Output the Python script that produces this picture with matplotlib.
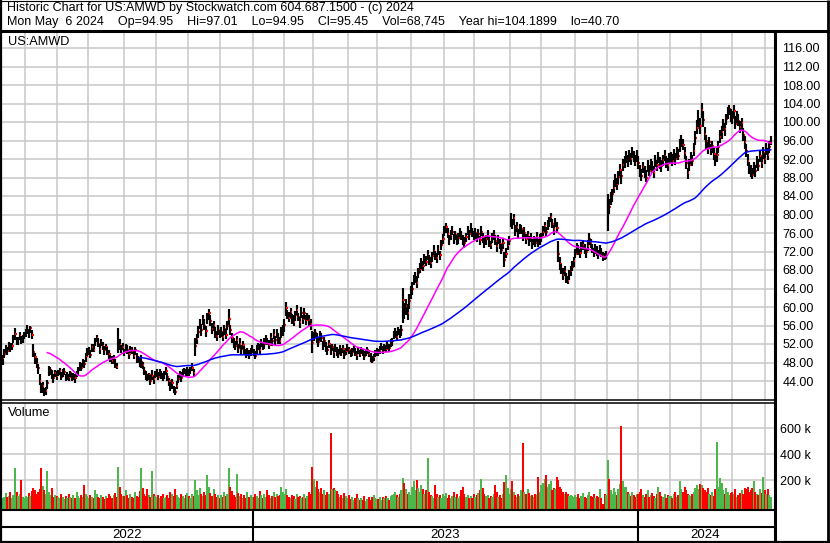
import numpy as np
import pandas as pd
import matplotlib
matplotlib.use('Agg')
import matplotlib.pyplot as plt
from matplotlib.collections import LineCollection

plt.rcParams['font.family'] = ['Liberation Sans', 'DejaVu Sans']

# ---- data: daily bars, May 10 2022 .. May 6 2024 (NYSE days) ----
holidays = ['2022-05-30', '2022-06-20', '2022-07-04', '2022-09-05', '2022-11-24', '2022-12-26',
            '2023-01-02', '2023-01-16', '2023-02-20', '2023-04-07', '2023-05-29', '2023-06-19',
            '2023-07-04', '2023-09-04', '2023-11-23', '2023-12-25',
            '2024-01-01', '2024-01-15', '2024-02-19', '2024-03-29']

close = [
    48.9, 49.8, 51.2, 50.4, 52.0, 50.9, 51.6, 53.1, 54.2, 52.4, 53.0, 53.8, 52.6, 53.4, 53.8,  # may 22
    54.3, 55.0, 54.6, 55.4, 53.9, 50.2, 49.1, 47.6, 46.8, 44.0, 42.1, 42.9, 41.3, 41.8, 43.5, 45.9, 46.4, 45.2, 44.7, 45.8, 45.1,
    45.6, 46.2, 44.9, 45.8, 46.0, 44.6, 45.3, 44.8, 45.7, 44.5, 45.1, 44.6, 45.5, 46.3, 47.4, 46.8, 48.1, 47.6, 49.3, 50.1,
    50.4, 49.6, 51.3, 50.8, 52.6, 53.4, 52.1, 51.0, 52.3, 51.5, 50.7, 51.4, 50.2, 49.8, 49.0, 48.3, 48.9, 47.6, 47.1, 52.8, 51.8, 50.9, 51.3,
    50.3, 51.2, 50.6, 49.8, 51.0, 50.4, 49.5, 50.7, 49.2, 48.6, 47.9, 48.2, 47.5, 46.1, 45.4, 44.6, 45.2, 44.1, 45.0, 44.4, 45.3,
    45.8, 44.9, 46.0, 45.2, 44.6, 45.5, 46.2, 44.8, 43.9, 42.6, 43.5, 42.2, 41.6, 43.0, 44.5, 45.3, 44.7, 45.9, 46.3, 45.6, 46.1,
    45.7, 46.4, 46.9, 45.8, 51.6, 53.0, 54.5, 56.2, 55.1, 57.3, 56.0, 54.8, 57.5, 58.6, 56.9, 55.3, 56.1, 54.2, 53.8, 55.0, 54.3,
    54.6, 53.5, 55.2, 54.0, 55.8, 57.4, 55.1, 53.2, 52.4, 51.6, 52.8, 51.2, 52.0, 50.9, 51.7, 50.6, 49.8, 50.5, 49.6, 50.3, 50.8,
    50.2, 49.5, 50.9, 51.6, 50.8, 52.3, 51.4, 52.0, 53.1, 52.5, 51.8, 53.4, 52.6, 53.9, 52.8, 54.1, 53.3, 52.7, 54.4, 55.0,  # jan 23
    56.2, 59.8, 58.4, 57.6, 58.9, 57.3, 56.8, 58.2, 59.3, 57.9, 56.7, 58.6, 57.4, 58.8, 57.1, 58.0, 57.2, 56.4, 52.3,
    53.6, 54.4, 53.1, 52.5, 54.0, 53.2, 51.8, 52.6, 51.2, 50.8, 51.9, 50.6, 51.4, 50.2, 51.1, 50.5, 49.9, 51.0, 50.3, 50.9, 49.7, 50.4, 51.2,
    50.6, 49.8, 50.3, 51.0, 50.1, 49.6, 50.5, 49.9, 50.8, 50.2, 49.4, 50.0, 50.7, 49.8, 49.2, 48.3, 49.1, 49.9, 50.4,
    50.1, 50.8, 51.3, 50.6, 51.5, 50.9, 51.8, 51.2, 52.0, 52.6, 53.8, 54.5, 53.6, 54.9, 54.2, 55.0, 61.5, 59.0, 60.2, 58.6, 61.3, 63.2,
    64.0, 65.8, 66.5, 65.2, 67.4, 68.3, 69.6, 68.8, 70.5, 69.7, 71.2, 70.4, 69.5, 71.0, 72.2, 71.4, 70.6, 72.0, 71.3, 73.4, 74.6,
    76.4, 77.2, 75.8, 74.6, 75.5, 76.3, 74.8, 75.6, 74.2, 75.0, 76.1, 75.3, 74.5, 73.8, 75.2, 76.4, 75.7, 76.9, 76.2, 75.4,
    76.0, 74.9, 75.7, 74.4, 76.2, 75.1, 73.8, 74.6, 75.4, 74.1, 73.5, 74.8, 75.6, 74.3, 73.2, 74.5, 73.6, 72.4, 73.9, 70.2, 71.5, 73.4, 74.2,
    78.6, 77.9, 79.2, 76.4, 77.2, 75.9, 76.8, 76.9, 75.6, 76.1, 74.8, 75.6, 74.2, 75.0, 73.6, 74.5, 73.9, 75.2, 74.0, 74.6,
    75.1, 76.3, 77.5, 76.2, 77.8, 78.6, 79.4, 77.9, 76.8, 78.2, 77.0, 71.5, 69.4, 68.2, 67.0, 67.8, 66.1, 65.6, 66.9, 67.8, 68.6, 69.9,
    71.5, 72.8, 72.2, 71.6, 72.9, 73.5, 72.4, 71.8, 73.2, 74.6, 73.8, 72.5, 71.9, 72.7, 72.0, 71.4, 72.3, 71.7, 71.0, 70.6, 71.3,
    82.5, 81.6, 83.4, 84.4, 85.8, 87.4, 86.5, 88.2, 89.6, 88.3, 90.6, 91.4, 92.3, 91.5, 92.8, 91.9, 93.6, 92.4, 91.7, 92.5,
    91.2, 89.6, 88.4, 90.3, 89.1, 88.0, 90.5, 89.4, 91.0, 90.2, 89.0, 91.6, 90.8, 92.2, 91.3, 90.4, 91.8, 92.6, 91.5, 90.7, 92.0,  # jan 24
    92.4, 91.6, 93.1, 92.0, 93.5, 92.7, 94.8, 96.2, 95.0, 93.4, 91.2, 89.0, 90.6, 92.3, 91.5, 93.8, 96.5, 98.7, 100.4, 99.2,
    102.6, 100.5, 97.4, 95.8, 94.2, 95.6, 93.9, 94.8, 93.1, 91.6, 92.8, 94.5, 96.8, 97.9, 99.2, 98.4, 100.6, 101.8, 102.9, 101.5,
    100.8, 102.4, 99.6, 101.2, 100.3, 98.9, 99.7, 97.2, 95.6, 93.8, 91.5, 90.2, 89.4, 88.6, 90.1, 89.3, 91.5, 90.4, 92.6, 91.2, 93.4, 92.1,
    94.1, 92.8, 94.6, 95.45,
]

# distance from close up to the high / down to the low
hi_ext = [
    0.8, 1.2, 0.6, 1.0, 0.5, 1.4, 0.7, 0.9, 1.3, 1.1, 0.6, 0.8, 1.2, 0.5, 0.9,
    0.9, 1.1, 0.7, 0.6, 1.2, 1.8, 1.0, 1.3, 0.8, 1.6, 1.4, 0.9, 1.2, 1.0, 0.8, 1.3, 0.7, 1.1, 0.9, 0.6, 1.0,
    0.8, 0.6, 1.1, 0.7, 0.9, 1.0, 0.6, 0.8, 0.5, 1.2, 0.7, 0.9, 0.6, 0.8, 0.7, 1.1, 0.6, 0.9, 0.8, 1.0,
    0.9, 1.0, 0.7, 1.2, 0.8, 0.6, 1.1, 0.9, 0.7, 1.0, 0.8, 0.6, 1.2, 0.9, 0.7, 1.0, 0.8, 1.1, 0.9, 2.6, 1.2, 0.8, 1.0,
    0.7, 0.9, 1.1, 0.8, 0.6, 1.0, 1.2, 0.7, 0.9, 0.8, 1.1, 1.4, 0.7, 1.0, 0.8, 0.9, 0.6, 1.1, 1.3, 0.7, 0.9,
    0.8, 1.0, 0.7, 0.9, 1.1, 0.6, 0.8, 1.0, 0.7, 1.2, 0.9, 0.8, 1.1, 1.0, 0.7, 0.9, 1.2, 0.8, 0.6, 1.0, 0.9,
    0.8, 0.7, 1.0, 0.9, 1.6, 1.2, 1.4, 1.1, 1.3, 1.0, 1.5, 1.2, 1.1, 1.0, 1.3, 1.2, 0.9, 1.4, 1.0, 1.2, 0.8,
    1.0, 1.2, 0.9, 1.3, 1.1, 2.2, 1.0, 1.2, 0.8, 1.1, 1.0, 0.9, 1.2, 0.8, 1.0, 0.9, 1.1, 0.7, 1.0, 0.8, 0.9,
    0.8, 1.0, 0.9, 0.7, 1.1, 0.8, 1.0, 1.2, 0.9, 0.7, 1.1, 1.0, 0.8, 1.3, 0.9, 1.1, 1.0, 0.8, 1.2, 1.1,
    1.2, 1.2, 1.0, 1.3, 0.9, 1.1, 1.4, 1.0, 1.2, 0.8, 1.1, 1.3, 0.9, 1.0, 1.2, 0.8, 1.1, 1.0, 2.5,
    1.1, 0.9, 1.2, 1.0, 0.8, 1.1, 0.9, 1.0, 1.2, 0.8, 0.9, 1.1, 0.7, 1.0, 0.8, 0.9, 1.1, 0.7, 0.9, 0.8, 1.0, 0.7, 0.9,
    0.7, 0.9, 0.8, 0.6, 1.0, 0.8, 0.7, 0.9, 0.6, 0.8, 1.0, 0.7, 0.6, 0.9, 0.8, 1.0, 0.7, 0.9, 0.8,
    0.8, 0.7, 0.9, 1.0, 0.6, 0.8, 0.9, 0.7, 1.0, 0.8, 1.1, 0.9, 1.2, 0.8, 1.0, 1.1, 2.7, 1.8, 1.5, 2.0, 1.6, 1.4,
    1.5, 1.2, 1.0, 1.4, 1.1, 1.3, 0.9, 1.2, 1.0, 1.4, 1.1, 0.9, 1.3, 1.0, 1.2, 0.8, 1.1, 1.3, 0.9, 1.0, 1.2,
    1.2, 1.0, 1.3, 0.9, 1.1, 1.2, 1.0, 0.8, 1.3, 1.1, 0.9, 1.2, 1.0, 1.4, 0.9, 1.1, 1.0, 1.2, 0.8, 1.0,
    1.1, 1.0, 1.2, 0.9, 1.3, 1.0, 1.1, 0.9, 1.2, 1.0, 0.8, 1.1, 1.0, 1.2, 0.9, 1.1, 1.0, 1.3, 0.9, 1.8, 1.2, 1.0, 1.1,
    1.7, 1.2, 1.0, 1.3, 1.1, 1.0, 1.2, 0.9, 1.1, 1.3, 1.0, 0.9, 1.2, 1.0, 1.1, 0.9, 1.2, 1.0, 0.8, 1.1,
    1.0, 1.2, 0.9, 1.1, 1.0, 0.8, 0.9, 1.2, 1.0, 1.1, 1.3, 2.8, 1.5, 1.2, 1.4, 1.1, 1.3, 1.0, 1.2, 1.1, 1.3, 1.0,
    1.1, 1.0, 1.2, 0.9, 1.1, 1.0, 1.3, 0.9, 1.2, 1.3, 1.0, 1.1, 0.8, 1.0, 1.2, 0.9, 1.0, 1.1, 0.8, 1.0, 0.9,
    2.0, 1.8, 1.5, 1.2, 1.6, 1.3, 1.5, 1.2, 1.4, 1.1, 1.5, 1.2, 1.4, 1.3, 1.2, 1.5, 0.9, 1.3, 1.1, 1.4,
    1.4, 1.2, 1.5, 1.1, 1.3, 1.6, 1.2, 1.4, 1.1, 1.3, 1.5, 1.2, 1.0, 1.4, 1.2, 1.3, 1.1, 1.4, 1.2, 1.5, 1.3,
    1.2, 1.4, 1.1, 1.3, 1.0, 1.5, 1.6, 1.0, 1.3, 1.2, 1.4, 1.1, 1.3, 1.2, 1.4, 1.6, 1.5, 1.8, 2.2, 1.6,
    1.59, 1.8, 1.6, 1.3, 1.5, 1.2, 1.4, 1.1, 1.3, 1.2, 1.5, 1.3, 1.4, 1.2, 1.5, 1.3, 1.2, 1.4, 0.8, 1.3,
    1.5, 1.2, 1.6, 1.1, 1.4, 1.3, 1.2, 1.5, 1.3, 1.4, 1.6, 1.2, 1.3, 1.5, 1.2, 1.4, 1.1, 1.5, 1.2, 1.4, 1.3, 1.1,
    1.3, 1.5, 1.2, 1.56,
]
lo_ext = [
    1.5, 0.9, 1.1, 0.7, 1.3, 0.6, 1.0, 0.8, 1.4, 0.7, 1.2, 0.9, 0.6, 1.1, 0.8,
    0.7, 0.8, 1.2, 1.0, 0.9, 1.1, 1.4, 0.8, 1.3, 0.9, 0.7, 1.5, 0.6, 0.9, 1.2, 0.8, 1.0, 0.7, 1.2, 0.9, 0.8,
    0.6, 0.9, 0.7, 1.0, 0.8, 0.6, 1.1, 0.7, 0.9, 0.6, 0.8, 1.0, 0.7, 0.9, 1.2, 0.6, 1.0, 0.8, 1.1, 0.7,
    0.8, 0.7, 1.1, 0.6, 1.0, 0.9, 0.8, 1.2, 0.7, 0.9, 1.1, 0.8, 0.6, 1.0, 0.9, 0.7, 1.2, 0.8, 0.6, 2.8, 1.0, 0.9, 0.7,
    1.0, 0.7, 0.8, 1.1, 0.9, 0.6, 0.8, 1.0, 1.2, 0.7, 0.9, 1.3, 1.0, 0.8, 1.1, 0.7, 0.9, 1.0, 0.8, 1.1, 0.6,
    0.9, 0.7, 1.0, 0.8, 0.6, 1.1, 0.9, 0.7, 1.0, 0.8, 1.2, 0.9, 0.6, 0.8, 1.0, 0.7, 0.9, 1.1, 0.8, 0.7, 1.0,
    0.7, 0.9, 0.8, 1.0, 2.2, 1.1, 1.3, 1.0, 1.4, 1.2, 1.0, 1.3, 1.2, 1.5, 1.0, 1.1, 1.3, 0.9, 1.2, 1.0, 1.1,
    1.1, 0.9, 1.2, 1.0, 0.8, 1.3, 1.1, 0.9, 1.2, 0.8, 1.0, 1.1, 0.9, 1.2, 0.8, 1.0, 0.9, 1.1, 0.8, 1.0, 0.7,
    0.9, 0.7, 1.0, 0.8, 1.2, 0.9, 0.7, 1.0, 1.1, 0.8, 0.9, 1.2, 1.0, 0.8, 1.1, 0.9, 1.3, 0.8, 1.0, 1.2,
    1.5, 1.8, 1.1, 0.9, 1.2, 1.0, 0.8, 1.3, 1.1, 1.0, 1.2, 0.9, 1.1, 1.3, 1.0, 0.9, 1.2, 1.4, 2.3,
    1.0, 1.2, 0.9, 1.1, 1.3, 0.8, 1.0, 1.2, 0.9, 1.1, 0.8, 1.0, 0.9, 1.2, 0.8, 1.0, 0.9, 1.1, 0.8, 0.9, 1.0, 0.8, 0.7,
    0.8, 0.6, 0.9, 0.7, 0.8, 1.0, 0.6, 0.8, 0.9, 0.7, 0.8, 0.6, 0.9, 0.7, 1.0, 0.5, 0.8, 0.7, 0.9,
    0.7, 0.9, 0.6, 0.8, 1.0, 0.7, 0.8, 0.9, 0.6, 1.0, 0.8, 1.1, 0.9, 1.0, 0.8, 1.2, 5.0, 1.6, 2.0, 1.4, 1.8, 1.5,
    1.3, 1.0, 1.4, 1.1, 1.2, 0.9, 1.3, 1.0, 1.2, 0.8, 1.1, 1.4, 1.0, 1.2, 0.9, 1.3, 1.0, 0.8, 1.2, 1.1, 0.9,
    1.0, 1.3, 0.9, 1.2, 1.0, 0.8, 1.2, 1.1, 0.9, 1.3, 1.0, 0.9, 1.2, 1.0, 1.1, 0.8, 1.2, 1.0, 1.1, 0.9,
    1.2, 0.9, 1.0, 1.1, 0.8, 1.2, 1.0, 1.1, 0.9, 1.2, 1.0, 0.9, 1.1, 1.0, 1.2, 0.8, 1.1, 1.0, 1.3, 1.6, 1.0, 1.1, 0.9,
    1.3, 1.0, 1.4, 1.1, 0.9, 1.2, 1.0, 1.1, 1.3, 0.9, 1.2, 1.0, 1.1, 0.9, 1.0, 1.2, 0.9, 1.1, 1.0, 1.2,
    1.1, 0.9, 1.2, 1.0, 1.1, 1.3, 1.0, 0.9, 1.2, 1.0, 1.1, 1.8, 1.3, 1.1, 1.2, 1.0, 0.9, 0.6, 1.1, 1.0, 0.9, 1.2,
    1.0, 1.2, 0.9, 1.1, 1.0, 1.2, 0.9, 1.1, 1.0, 1.2, 1.1, 0.9, 1.0, 1.2, 0.9, 1.1, 1.0, 0.9, 1.1, 0.4, 1.0,
    6.0, 1.5, 1.3, 1.6, 1.2, 1.4, 1.1, 1.5, 1.3, 1.6, 1.2, 1.4, 1.1, 1.3, 1.5, 1.2, 1.4, 1.1, 1.3, 1.2,
    1.3, 1.5, 1.1, 1.4, 1.2, 0.9, 1.3, 1.1, 1.4, 1.2, 1.0, 1.3, 1.5, 1.1, 1.4, 1.2, 1.3, 1.0, 1.4, 1.2, 1.1,
    1.3, 1.1, 1.4, 1.2, 1.3, 1.0, 1.2, 1.5, 1.1, 1.4, 1.3, 1.4, 1.2, 1.3, 1.1, 1.2, 1.4, 1.3, 1.5, 1.7,
    1.8, 1.5, 1.3, 1.6, 1.2, 1.4, 1.1, 1.5, 1.3, 1.1, 1.4, 1.2, 1.3, 1.5, 1.2, 1.4, 1.3, 1.1, 1.4, 1.6,
    1.3, 1.5, 1.2, 1.4, 1.1, 1.3, 1.5, 1.2, 1.4, 1.3, 1.1, 1.4, 1.2, 1.0, 1.3, 1.2, 1.4, 1.1, 1.3, 1.2, 1.4, 1.2,
    1.2, 1.1, 1.4, 0.5,
]

# volume in thousands of shares
volume = [
    60, 72, 98, 66, 80, 105, 58, 88, 290, 110, 75, 92, 200, 70, 64,
    80, 66, 98, 74, 115, 140, 125, 90, 105, 130, 290, 155, 120, 95, 270, 110, 85, 140, 70, 88, 76,
    72, 58, 90, 66, 54, 80, 62, 96, 70, 58, 84, 64, 110, 75, 60, 88, 70, 165, 92, 78,
    64, 88, 70, 58, 120, 95, 72, 60, 84, 66, 55, 78, 62, 90, 74, 58, 82, 100, 70, 300, 150, 96, 80,
    75, 120, 86, 64, 92, 70, 58, 104, 80, 66, 112, 290, 140, 95, 78, 130, 88, 70, 270, 90, 76,
    68, 82, 60, 74, 96, 58, 70, 88, 64, 110, 92, 76, 130, 84, 70, 62, 90, 74, 58, 86, 100,
    80, 64, 92, 76, 200, 120, 88, 140, 96, 74, 110, 86, 240, 150, 98, 76, 130, 90, 70, 84, 62,
    88, 72, 104, 80, 96, 290, 150, 112, 84, 70, 250, 98, 76, 90, 64, 82, 58, 110, 72, 86, 68,
    66, 90, 74, 58, 112, 82, 64, 96, 70, 120, 86, 60, 78, 104, 68, 92, 74, 88, 150, 110,
    96, 130, 84, 70, 62, 88, 74, 56, 92, 66, 80, 58, 72, 94, 64, 78, 110, 90, 300,
    210, 150, 195, 130, 110, 140, 96, 120, 88, 104, 92, 565, 130, 140, 122, 118, 92, 70, 86, 60, 98, 76, 64,
    82, 56, 70, 48, 64, 92, 58, 44, 62, 50, 76, 40, 54, 68, 46, 72, 88, 60, 52,
    54, 66, 48, 72, 58, 80, 62, 50, 74, 88, 96, 110, 84, 70, 92, 120, 215, 180, 130, 96, 110, 88,
    150, 190, 125, 200, 140, 110, 165, 130, 96, 120, 370, 104, 88, 76, 58, 160, 96, 70, 84, 64, 90,
    74, 100, 64, 88, 58, 80, 110, 66, 92, 60, 78, 120, 150, 96, 70, 84, 62, 76, 58, 90,
    68, 84, 100, 120, 210, 140, 96, 74, 88, 60, 78, 66, 92, 160, 104, 70, 82, 64, 96, 185, 240, 140, 96,
    130, 190, 104, 86, 72, 96, 80, 120, 487, 110, 90, 130, 98, 76, 88, 70, 96, 84, 220, 104,
    160, 180, 210, 240, 150, 170, 190, 120, 140, 130, 220, 200, 150, 130, 104, 92, 110, 96, 74, 88, 80, 70,
    86, 70, 92, 64, 78, 100, 72, 60, 88, 110, 76, 66, 94, 58, 80, 70, 130, 62, 18, 96, 84,
    355, 210, 120, 96, 140, 110, 88, 130, 170, 615, 190, 150, 150, 104, 92, 76, 110, 84, 70, 96,
    96, 110, 130, 84, 72, 92, 120, 68, 86, 100, 76, 64, 90, 145, 104, 80, 70, 96, 60, 88, 74,
    80, 64, 96, 110, 72, 88, 190, 130, 104, 150, 120, 96, 84, 76, 92, 110, 140, 165, 130, 170,
    160, 140, 120, 104, 140, 96, 88, 110, 76, 130, 490, 150, 215, 180, 120, 96, 140, 110, 84, 100,
    110, 90, 130, 70, 84, 100, 120, 96, 140, 130, 150, 104, 120, 140, 190, 110, 96, 84, 130, 100, 225, 120,
    96, 130, 84, 69,
]

title1 = "Historic Chart for US:AMWD by Stockwatch.com 604.687.1500 - (c) 2024"
title2 = "    ".join(["Mon May  6 2024", "Op=94.95", "Hi=97.01", "Lo=94.95", "Cl=95.45",
                     "Vol=68,745", "Year hi=104.1899", "lo=40.70"])
symbol = "US:AMWD"
price_ticks = np.arange(44, 117, 4)
vol_ticks = [200, 400, 600]

# ---- derived ----
dates = pd.bdate_range('2022-05-10', '2024-05-06', freq='C', holidays=holidays)
n = len(dates)
x = np.arange(n)
close = np.array(close)
high = close + np.array(hi_ext)
low = close - np.array(lo_ext)
volume = np.array(volume, dtype=float)
ma_fast = pd.Series(close).rolling(30).mean()
ma_slow = pd.Series(close).rolling(90).mean()

new_month = np.r_[False, dates.month[1:] != dates.month[:-1]]
new_year = np.r_[False, dates.year[1:] != dates.year[:-1]]
month_lines = x[new_month] - 0.5
year_lines = x[new_year] - 0.5

W, H = 830, 543
fig = plt.figure(figsize=(W / 100, H / 100), dpi=100)
fig.patch.set_facecolor('white')


def px_box(x0, y0, x1, y1):
    return [x0 / W, 1 - y1 / H, (x1 - x0) / W, (y1 - y0) / H]


XL = (-0.45, n + 1.1)
GRID = '#c8c8c8'

# ---- price panel ----
ax = fig.add_axes(px_box(2, 32, 774, 400))
ax.set_xlim(*XL)
ax.set_ylim(116 - 352 / 4.625, 116 + 16 / 4.625)
for s in ax.spines.values():
    s.set_visible(False)
ax.set_xticks(month_lines)
ax.set_yticks(price_ticks)
ax.set_yticklabels(['%.2f' % v for v in price_ticks])
ax.tick_params(axis='x', length=0, labelbottom=False)
ax.tick_params(axis='y', length=0, left=False, labelleft=False, right=False,
               labelright=True, pad=6, labelsize=9)
ax.grid(True, color=GRID, lw=1.1)
ax.set_axisbelow(True)

# bars drawn in order: each close tick gets partly covered by the next bar
segs, cols = [], []
for i in range(n):
    segs.append([(x[i], low[i]), (x[i], high[i])])
    cols.append('black')
    segs.append([(x[i] + 0.3, close[i]), (x[i] + 1.1, close[i])])
    cols.append('#ff0000')
ax.add_collection(LineCollection(segs, colors=cols, linewidths=1.55, capstyle='butt', zorder=3))
ax.plot(x, ma_fast, color='#ff00ff', lw=1.1, zorder=4)
ax.plot(x, ma_slow, color='#0000ff', lw=1.1, zorder=4)

# ---- volume panel ----
axv = fig.add_axes(px_box(2, 403, 774, 509))
axv.set_xlim(*XL)
axv.set_ylim(-23, (506 - 403) / 0.13)
for s in axv.spines.values():
    s.set_visible(False)
axv.set_xticks(month_lines)
axv.set_yticks(vol_ticks)
axv.set_yticklabels(['%d k' % v for v in vol_ticks])
axv.tick_params(axis='x', length=0, labelbottom=False)
axv.tick_params(axis='y', length=0, left=False, labelleft=False, right=False,
                labelright=True, pad=4, labelsize=9)
axv.grid(True, color=GRID, lw=1.1)
axv.set_axisbelow(True)
chg = np.r_[1.0, np.diff(close)]
vcol = np.where(chg > 0, '#4cb84c', np.where(chg < 0, '#ff0000', '#a8a8a8'))
axv.bar(x, volume + 30, bottom=-30, width=1.3, color=vcol, linewidth=0,
        antialiased=False, zorder=3)

# ---- year strip ----
axy = fig.add_axes(px_box(2, 509, 774, 542))
axy.set_xlim(*XL)
axy.set_ylim(0, 1)
axy.axis('off')
axy.vlines(year_lines, 0, 1, color='black', lw=1.5)
bounds = np.r_[-0.5, year_lines, n - 0.5]
for k, yr in enumerate(sorted(set(dates.year))):
    axy.text((bounds[k] + bounds[k + 1]) / 2, 0.22, str(yr), ha='center', va='center', fontsize=9.5)

# ---- frame and header (pixel coordinates) ----
fr = fig.add_axes([0, 0, 1, 1])
fr.set_xlim(0, W)
fr.set_ylim(H, 0)
fr.axis('off')
fr.patch.set_visible(False)
fr.hlines(31, 0, W, color='black', lw=2.2)
fr.vlines(774.5, 31, H, color='black', lw=2.2)
fr.hlines([399.8, 402.6], 0, 774, color='black', lw=1.1)
fr.hlines([509.5, 527], 0, 774, color='black', lw=1.5)
fr.hlines(541.8, 0, W, color='black', lw=1.6)
fr.vlines(1, 0, H, color='black', lw=1.6)
fr.vlines(828.2, 0, H, color='black', lw=2.0)
fr.hlines(0.5, 0, W, color='black', lw=0.8)
fr.text(7, 8.5, title1, fontsize=9.0, va='center', ha='left')
fr.text(7, 22.5, title2, fontsize=9.0, va='center', ha='left')
fr.text(8, 42, symbol, fontsize=9.2, va='center', ha='left')
fr.text(8, 413, 'Volume', fontsize=9.2, va='center', ha='left')

fig.savefig('out.png', dpi=100, facecolor='white')
